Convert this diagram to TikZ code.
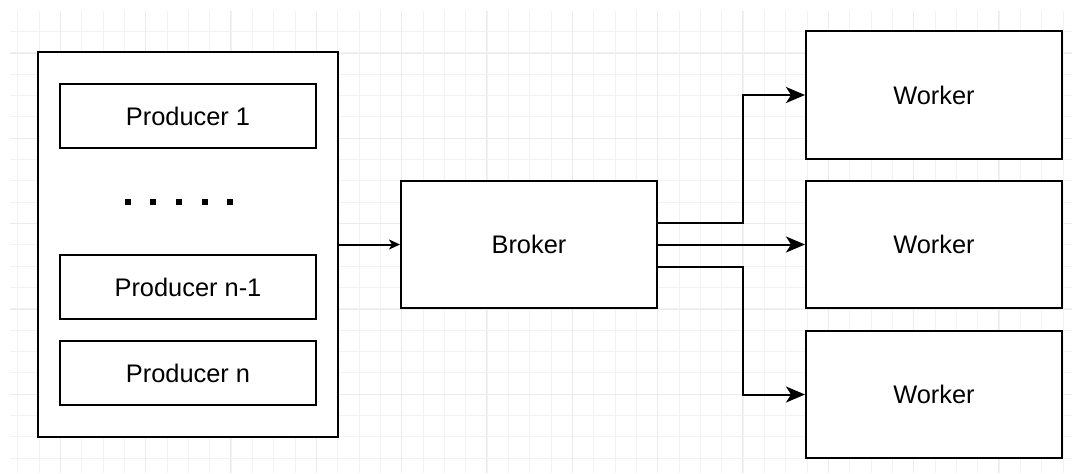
\documentclass[tikz,border=0pt]{standalone}
\usepackage{fontspec}
\setmainfont{Liberation Sans}
\usetikzlibrary{arrows.meta,calc}
\newcommand{\lowtext}[1]{\raisebox{-1pt}{#1}}
\begin{document}
\begin{tikzpicture}[x=0.5pt,y=-0.5pt,
  box/.style={draw=black,line width=1pt,fill=white,rectangle,inner sep=0pt,
    font=\fontsize{12.7}{15}\selectfont},
  pbox/.style={box,minimum width=128pt,minimum height=32pt},
  wbox/.style={box,minimum width=128pt,minimum height=64pt},
  bigarrow/.style={line width=1pt,-{Stealth[length=9.5pt,width=8pt,inset=2.5pt]}},
  smallarrow/.style={line width=1pt,-{Stealth[length=5.5pt,width=5pt,inset=1.5pt]}},
  minorgrid/.style={draw=black!5,line width=0.5pt},
  majorgrid/.style={draw=black!8,line width=0.5pt}]
\useasboundingbox (0,0) rectangle (1072,473);
\fill[white] (0,0) rectangle (1072,473);
% grid
\begin{scope}
\clip (10,11) rectangle (1072,473);
\foreach \i in {0,...,49} {
  \draw[minorgrid] ({17.7+21.333*\i},0) -- ({17.7+21.333*\i},473);
}
\foreach \i in {0,...,22} {
  \draw[minorgrid] (0,{10.3+21.333*\i}) -- (1072,{10.3+21.333*\i});
}
\foreach \i in {0,...,12} {
  \draw[majorgrid] ({60.3+85.333*\i},0) -- ({60.3+85.333*\i},473);
}
\foreach \i in {0,...,5} {
  \draw[majorgrid] (0,{53+85.333*\i}) -- (1072,{53+85.333*\i});
}
\end{scope}
% producers container
\node[box,minimum width=150pt,minimum height=192.5pt] (cont) at (188,244.5) {};
\node[pbox] (p1) at (188,116) {\lowtext{Producer 1}};
\node[pbox] (pn1) at (188,287) {\lowtext{Producer n-1}};
\node[pbox] (pn) at (188,373) {\lowtext{Producer n}};
\foreach \x in {127.7,153.3,179,204.6,230.2} {
  \fill[black] (\x-3,199) rectangle (\x+3,205);
}
% broker and workers
\node[wbox,minimum height=63.5pt] (broker) at (529,244.5) {\lowtext{Broker}};
\node[wbox] (w1) at (934,95) {\lowtext{Worker}};
\node[wbox,minimum height=63.5pt] (w2) at (934,244.5) {\lowtext{Worker}};
\node[wbox,minimum height=63.5pt] (w3) at (934,394.5) {\lowtext{Worker}};
% connectors
\draw[smallarrow] (cont.east) -- (broker.west);
\draw[bigarrow] ([yshift=10.75pt]broker.east) -- ++(42.5pt,0) |- (w1.west);
\draw[bigarrow] (broker.east) -- (w2.west);
\draw[bigarrow] ([yshift=-11pt]broker.east) -- ++(42.5pt,0) |- (w3.west);
\end{tikzpicture}
\end{document}
